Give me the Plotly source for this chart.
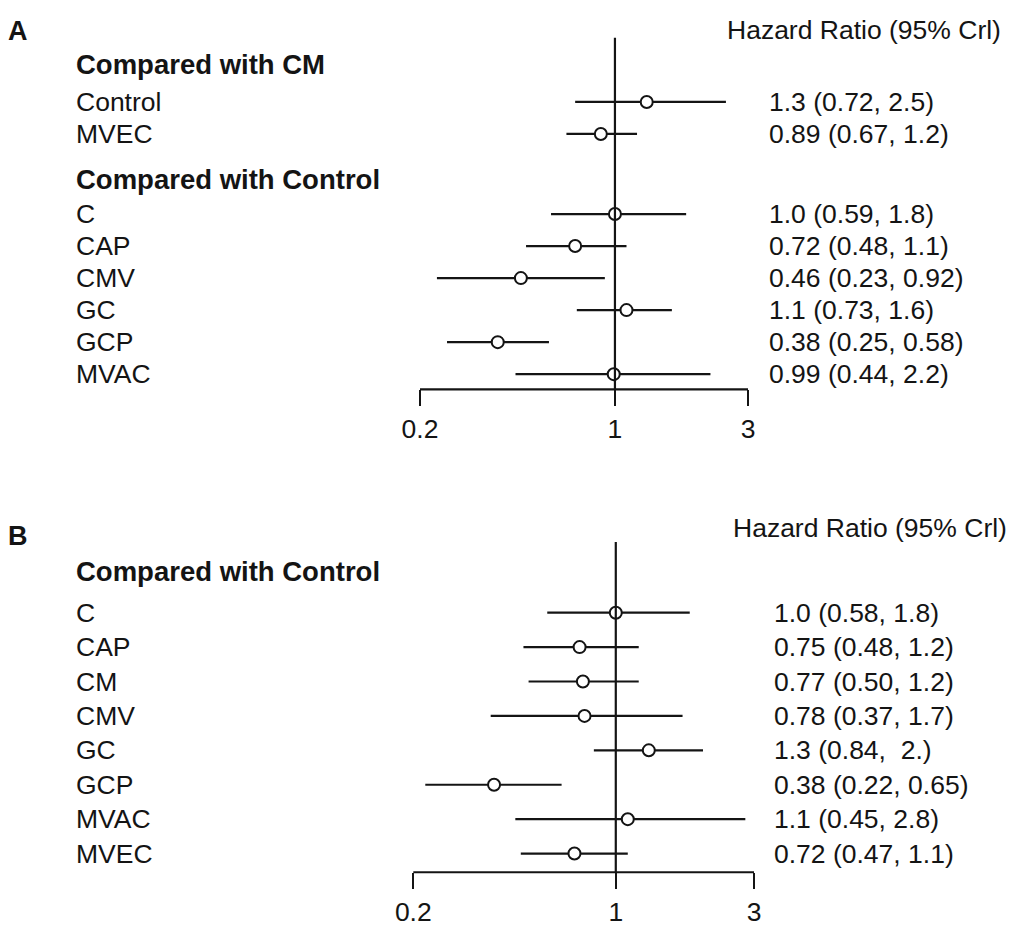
import math
import plotly.graph_objects as go

# ---------------- data ----------------
# Panel A
a_head1 = "Compared with CM"
a_lab1 = ["Control", "MVEC"]
a_est1 = [1.3, 0.89]
a_lo1 = [0.72, 0.67]
a_hi1 = [2.5, 1.2]
a_txt1 = ["1.3 (0.72, 2.5)", "0.89 (0.67, 1.2)"]

a_head2 = "Compared with Control"
a_lab2 = ["C", "CAP", "CMV", "GC", "GCP", "MVAC"]
a_est2 = [1.0, 0.72, 0.46, 1.1, 0.38, 0.99]
a_lo2 = [0.59, 0.48, 0.23, 0.73, 0.25, 0.44]
a_hi2 = [1.8, 1.1, 0.92, 1.6, 0.58, 2.2]
a_txt2 = ["1.0 (0.59, 1.8)", "0.72 (0.48, 1.1)", "0.46 (0.23, 0.92)",
          "1.1 (0.73, 1.6)", "0.38 (0.25, 0.58)", "0.99 (0.44, 2.2)"]

# Panel B
b_head = "Compared with Control"
b_lab = ["C", "CAP", "CM", "CMV", "GC", "GCP", "MVAC", "MVEC"]
b_est = [1.0, 0.75, 0.77, 0.78, 1.3, 0.38, 1.1, 0.72]
b_lo = [0.58, 0.48, 0.50, 0.37, 0.84, 0.22, 0.45, 0.47]
b_hi = [1.8, 1.2, 1.2, 1.7, 2.0, 0.65, 2.8, 1.1]
b_txt = ["1.0 (0.58, 1.8)", "0.75 (0.48, 1.2)", "0.77 (0.50, 1.2)",
         "0.78 (0.37, 1.7)", "1.3 (0.84,  2.)", "0.38 (0.22, 0.65)",
         "1.1 (0.45, 2.8)", "0.72 (0.47, 1.1)"]

col_header = "Hazard Ratio (95% Crl)"
tick_vals = [0.2, 1, 3]
tick_text = ["0.2", "1", "3"]

# ---------------- layout helpers ----------------
W, H = 1024, 927
FONT = "Liberation Sans, Arial, sans-serif"
FS = 26.5
FSB = 27.5
INK = "#141414"


def px(x):
    return x / W


def py(y):
    return 1 - y / H


def log_range(dom_l, dom_r, x_at_02, px_per_dec):
    l0 = math.log10(0.2)
    return [l0 - (x_at_02 - dom_l) / px_per_dec, l0 + (dom_r - x_at_02) / px_per_dec]


def y_range(top_px, bot_px, y0_px, step):
    return [(bot_px - y0_px) / step, (top_px - y0_px) / step]


# panel geometry (pixels)
A_dom = (300, 800); A_x02 = 420.0; A_dec = 278.9
A_top = 20.0; A_bot = 391.5; A_y0 = 102.5; A_step = 32.2
B_dom = (300, 800); B_x02 = 413.3; B_dec = 289.7
B_top = 515.0; B_bot = 877.0; B_y0 = 616.0; B_step = 34.6

a_rows1 = [i for i in range(len(a_lab1))]
a_rows2 = [len(a_lab1) + 1.5 + i for i in range(len(a_lab2))]
b_rows = [i for i in range(len(b_lab))]

fig = go.Figure()


def add_series(est, lo, hi, rows, xa, ya):
    fig.add_trace(go.Scatter(
        x=est, y=rows, mode="markers", xaxis=xa, yaxis=ya,
        marker=dict(symbol="circle", size=12, color="white",
                    line=dict(width=2, color=INK)),
        error_x=dict(type="data", symmetric=False,
                     array=[h - e for h, e in zip(hi, est)],
                     arrayminus=[e - l for e, l in zip(est, lo)],
                     width=0, thickness=2.2, color=INK),
        showlegend=False, hoverinfo="skip"))


add_series(a_est1, a_lo1, a_hi1, a_rows1, "x", "y")
add_series(a_est2, a_lo2, a_hi2, a_rows2, "x", "y")
add_series(b_est, b_lo, b_hi, b_rows, "x2", "y2")

axis_common = dict(type="log", tickvals=tick_vals, ticktext=tick_text,
                   ticks="outside", ticklen=16, tickwidth=2.2, tickcolor=INK,
                   showline=False, showgrid=False, zeroline=False,
                   tickfont=dict(family=FONT, size=FS, color=INK),
                   fixedrange=True)
yaxis_common = dict(showticklabels=False, showgrid=False, zeroline=False,
                    showline=False, ticks="", fixedrange=True)

fig.update_layout(
    width=W, height=H,
    margin=dict(l=0, r=0, t=0, b=0),
    paper_bgcolor="white", plot_bgcolor="white",
    font=dict(family=FONT, size=FS, color=INK),
    xaxis=dict(domain=[px(A_dom[0]), px(A_dom[1])],
               range=log_range(A_dom[0], A_dom[1], A_x02, A_dec),
               anchor="y", **axis_common),
    yaxis=dict(domain=[py(A_bot), py(A_top)],
               range=y_range(A_top, A_bot, A_y0, A_step),
               anchor="x", **yaxis_common),
    xaxis2=dict(domain=[px(B_dom[0]), px(B_dom[1])],
                range=log_range(B_dom[0], B_dom[1], B_x02, B_dec),
                anchor="y2", **axis_common),
    yaxis2=dict(domain=[py(B_bot), py(B_top)],
                range=y_range(B_top, B_bot, B_y0, B_step),
                anchor="x2", **yaxis_common),
)

# axis baselines and reference lines
for xa, ya, bot_px, top_px, y0, step in [("x", "y", A_bot, 38, A_y0, A_step),
                                         ("x2", "y2", B_bot, 545, B_y0, B_step)]:
    fig.add_shape(type="line", xref=xa, yref="paper",
                  x0=tick_vals[0], x1=tick_vals[-1], y0=py(bot_px), y1=py(bot_px),
                  line=dict(color=INK, width=2.2))
    fig.add_shape(type="line", xref=xa, yref=ya,
                  x0=1, x1=1, y0=(top_px - y0) / step, y1=(bot_px - y0) / step,
                  line=dict(color=INK, width=2.2))

ann = []


def label(x_px, y, yref, text, bold=False, size=FS):
    ann.append(dict(x=px(x_px), y=y, xref="paper", yref=yref,
                    text=("<b>%s</b>" % text) if bold else text,
                    showarrow=False, xanchor="left", yanchor="middle",
                    font=dict(family=FONT, size=size, color=INK)))


# Panel A texts
label(6, py(31), "paper", "A", bold=True, size=27)
label(725, py(30), "paper", col_header)
label(74, (65 - A_y0) / A_step, "y", a_head1, bold=True, size=FSB)
for r, t, v in zip(a_rows1, a_lab1, a_txt1):
    label(74, r, "y", t)
    label(767, r, "y", v)
label(74, (180 - A_y0) / A_step, "y", a_head2, bold=True, size=FSB)
for r, t, v in zip(a_rows2, a_lab2, a_txt2):
    label(74, r, "y", t)
    label(767, r, "y", v)

# Panel B texts
label(6, py(539), "paper", "B", bold=True, size=27)
label(731, py(531), "paper", col_header)
label(74, (575 - B_y0) / B_step, "y2", b_head, bold=True, size=FSB)
for r, t, v in zip(b_rows, b_lab, b_txt):
    label(74, r, "y2", t)
    label(772, r, "y2", v)

fig.update_layout(annotations=ann)
fig.write_html("out.html", config={"displayModeBar": False},
               post_script="document.body.style.margin='0';document.body.style.overflow='hidden';")
